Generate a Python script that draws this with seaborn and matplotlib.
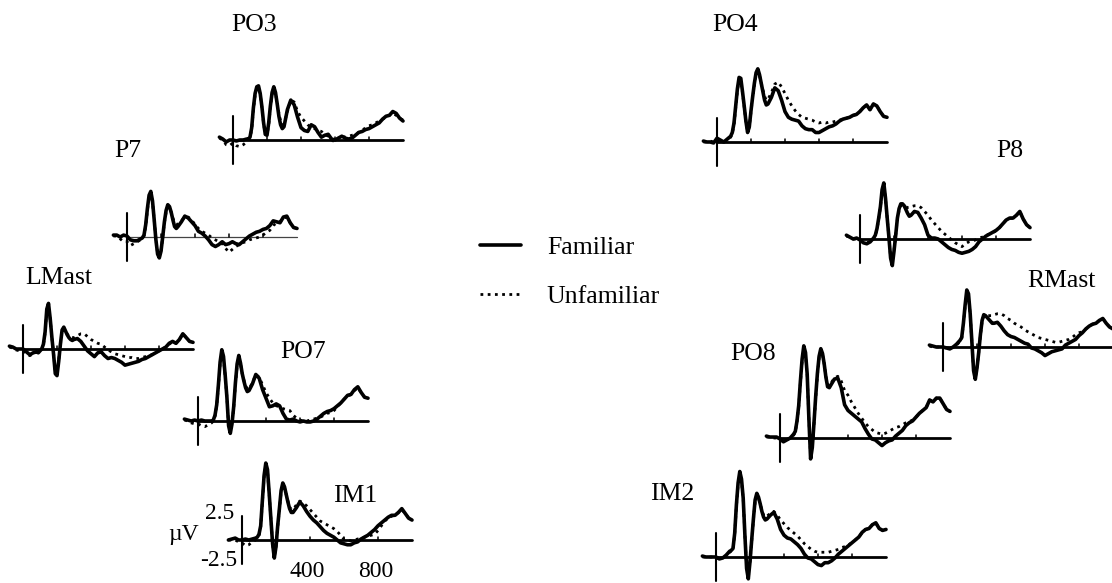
import numpy as np
import pandas as pd
import matplotlib
matplotlib.use("Agg")
import matplotlib.pyplot as plt
import seaborn as sns
from matplotlib.lines import Line2D

# ---------------- data (µV) ----------------
# sampling times (ms): 20 ms steps, 10 ms steps around the early peaks
times = ([-80, -60, -40, -20, 0, 20, 40, 60, 80]
         + list(range(90, 301, 10))
         + list(range(320, 1001, 20)))

po3_familiar = [0.3, 0.1, -0.2, 0.0, 0.0, -0.1, 0.0, 0.0, 0.1,
                0.1, 0.3, 1.3, 3.4, 4.9, 5.6, 5.7, 4.9, 3.5, 1.8, 0.6, 0.5,
                1.8, 3.6, 5.0, 5.6, 5.0, 3.8, 2.5, 1.6, 1.2, 1.4,
                3.2, 4.2, 3.7, 2.4, 1.3,
                1.0, 0.9, 1.6, 1.4, 0.8, 0.3, 0.5, 0.6, 0.1, 0.0,
                0.2, 0.4, 0.2, 0.1, 0.2, 0.5, 0.8, 0.9, 1.1, 1.2,
                1.4, 1.6, 1.8, 2.2, 2.5, 2.6, 3.0, 2.8, 2.3, 2.0]
po3_unfamiliar = [0.2, 0.0, -0.5, -0.6, -0.3, -0.6, -0.7, -0.5, -0.2,
                  0.0, 0.2, 1.1, 3.2, 4.7, 5.4, 5.5, 4.8, 3.4, 1.7, 0.6, 0.5,
                  1.6, 3.4, 4.8, 5.4, 4.9, 3.9, 2.8, 2.0, 1.6, 1.7,
                  3.0, 4.2, 4.0, 3.0, 2.4,
                  2.0, 1.6, 1.3, 1.2, 1.0, 0.9, 0.6, 0.4, 0.0, -0.2,
                  0.2, 0.4, 0.3, 0.4, 0.5, 0.6, 0.8, 1.0, 1.3, 1.5,
                  1.6, 1.8, 2.0, 2.2, 2.4, 2.6, 2.8, 2.6, 2.3, 2.1]

p7_familiar = [0.2, 0.2, 0.0, 0.2, 0.1, -0.3, -0.4, -0.4, -0.2,
               -0.1, 0.2, 1.3, 3.0, 4.4, 4.8, 3.8, 1.8, -0.3, -1.8, -2.2, -1.5,
               0.0, 1.6, 2.8, 3.4, 3.2, 2.6, 1.8, 1.1, 0.9, 1.1,
               1.6, 2.2, 2.0, 1.6, 1.2,
               0.6, 0.4, 0.1, -0.3, -0.8, -1.0, -0.8, -0.5, -0.8, -0.7,
               -0.5, -0.7, -0.8, -0.5, -0.2, 0.1, 0.3, 0.5, 0.6, 0.8,
               0.9, 1.2, 1.7, 1.6, 1.5, 2.1, 2.2, 1.5, 1.0, 0.9]
p7_unfamiliar = [0.1, 0.1, -0.2, -0.5, -0.5, -0.9, -0.7, -0.5, -0.3,
                 -0.1, 0.1, 1.1, 2.8, 4.2, 4.6, 3.7, 1.8, -0.2, -1.7, -2.1, -1.5,
                 0.0, 1.5, 2.6, 3.2, 3.1, 2.6, 2.0, 1.5, 1.3, 1.4,
                 1.7, 2.1, 2.1, 1.8, 1.3,
                 0.9, 0.6, 0.4, 0.2, -0.1, -0.3, -0.5, -0.7, -1.2, -1.6,
                 -1.3, -1.0, -0.8, -0.6, -0.5, -0.3, -0.2, -0.1, 0.0, 0.2,
                 0.5, 0.7, 1.2, 1.5, 1.6, 2.0, 2.1, 1.5, 1.0, 0.9]

lmast_familiar = [0.3, 0.2, 0.0, 0.0, 0.0, -0.3, -0.6, -0.4, -0.3,
                  -0.4, -0.2, 0.0, 0.5, 1.8, 4.2, 4.8, 3.2, 1.2, -0.6, -2.6, -2.8,
                  -1.3, 0.5, 2.0, 2.3, 1.9, 1.5, 1.2, 1.0, 0.9, 1.0,
                  1.1, 0.8, 0.3, -0.2, -0.5,
                  -0.8, -0.4, -0.3, -0.7, -1.0, -0.9, -1.0, -1.2, -1.4, -1.7,
                  -1.6, -1.5, -1.4, -1.3, -1.1, -1.0, -0.8, -0.6, -0.4, -0.2,
                  0.0, 0.2, 0.6, 0.8, 0.6, 1.0, 1.6, 1.2, 0.8, 0.7]
lmast_unfamiliar = [0.2, 0.1, -0.1, -0.2, -0.2, -0.5, -0.7, -0.5, -0.3,
                    -0.4, -0.2, 0.0, 0.4, 1.7, 4.0, 4.6, 3.1, 1.2, -0.5, -2.4, -2.6,
                    -1.2, 0.5, 1.8, 2.1, 1.9, 1.6, 1.3, 1.2, 1.2, 1.2,
                    1.4, 1.6, 1.6, 1.3, 1.0,
                    0.8, 0.6, 0.5, 0.2, -0.1, -0.3, -0.5, -0.6, -0.7, -0.8,
                    -0.9, -0.9, -1.0, -1.0, -0.9, -0.8, -0.7, -0.6, -0.4, -0.2,
                    0.0, 0.2, 0.5, 0.8, 0.6, 1.0, 1.6, 1.2, 0.8, 0.7]

po7_familiar = [0.2, 0.1, 0.0, 0.1, 0.0, 0.1, 0.0, 0.0, 0.0,
                0.1, 0.6, 1.7, 3.8, 6.2, 7.5, 6.8, 4.8, 2.5, -0.5, -1.3, -0.3,
                1.5, 4.0, 6.0, 6.9, 6.1, 5.0, 4.2, 3.5, 3.1, 3.2,
                3.9, 4.9, 4.5, 3.3, 2.4,
                1.5, 1.6, 1.8, 1.6, 0.8, 0.2, 0.1, 0.2, 0.0, -0.1,
                0.0, -0.1, -0.1, 0.0, 0.2, 0.5, 0.8, 1.0, 1.1, 1.3,
                1.6, 1.9, 2.3, 2.7, 2.8, 3.3, 3.6, 3.0, 2.5, 2.4]
po7_unfamiliar = [0.1, 0.0, -0.2, -0.3, -0.3, -0.5, -0.6, -0.4, -0.2,
                  0.0, 0.5, 1.6, 3.6, 6.0, 7.3, 6.6, 4.7, 2.5, -0.4, -1.2, -0.3,
                  1.4, 3.8, 5.8, 6.7, 6.0, 5.0, 4.3, 3.7, 3.4, 3.4,
                  4.0, 4.9, 4.6, 3.8, 3.0,
                  2.4, 1.9, 1.6, 1.5, 1.3, 1.2, 1.1, 0.6, 0.3, 0.1,
                  0.0, 0.0, 0.1, 0.2, 0.3, 0.4, 0.6, 0.8, 0.9, 1.1,
                  1.5, 1.9, 2.3, 2.6, 2.8, 3.2, 3.5, 3.0, 2.5, 2.4]

im1_familiar = [0.0, 0.1, 0.2, 0.0, 0.0, 0.1, 0.0, 0.1, 0.2,
                0.3, 0.6, 1.5, 4.2, 6.8, 8.1, 7.4, 4.9, 2.2, -0.4, -1.9, -0.7,
                1.5, 3.3, 5.2, 6.0, 5.6, 4.8, 4.0, 3.3, 2.9, 2.9,
                3.4, 4.0, 3.6, 3.0, 2.5,
                2.1, 1.8, 1.4, 1.0, 0.7, 0.5, 0.3, 0.0, -0.3, -0.4,
                -0.5, -0.5, -0.3, -0.2, 0.1, 0.3, 0.5, 0.8, 1.1, 1.5,
                1.8, 2.1, 2.4, 2.6, 2.6, 2.9, 3.3, 2.8, 2.3, 2.1]
im1_unfamiliar = [0.0, 0.0, 0.0, -0.2, -0.3, -0.6, -0.5, -0.2, 0.0,
                  0.2, 0.5, 1.4, 4.0, 6.6, 7.9, 7.2, 4.8, 2.2, -0.4, -1.8, -0.7,
                  1.4, 3.2, 5.0, 5.8, 5.5, 4.8, 4.1, 3.5, 3.2, 3.2,
                  3.7, 4.1, 3.9, 3.6, 3.2,
                  2.8, 2.4, 2.0, 1.8, 1.6, 1.4, 1.2, 0.9, 0.5, 0.1,
                  0.0, -0.1, 0.0, 0.1, 0.2, 0.3, 0.4, 0.5, 0.6, 1.0,
                  1.5, 2.0, 2.3, 2.5, 2.6, 2.9, 3.2, 2.8, 2.3, 2.1]

po4_familiar = [0.1, 0.0, 0.0, -0.1, 0.4, 0.2, 0.0, 0.3, 0.6,
                1.0, 2.0, 3.8, 5.6, 6.8, 6.7, 5.3, 3.8, 2.2, 1.0, 1.6, 3.3,
                4.8, 6.2, 7.3, 7.7, 7.1, 6.2, 5.3, 4.4, 3.9, 4.0,
                4.7, 5.7, 5.4, 4.4, 3.2,
                2.6, 2.4, 2.3, 2.2, 1.7, 1.4, 1.3, 1.3, 1.0, 1.0,
                1.2, 1.4, 1.6, 1.7, 1.9, 2.2, 2.4, 2.5, 2.6, 2.8,
                2.9, 3.2, 3.6, 3.9, 3.4, 4.0, 3.8, 3.2, 2.7, 2.6]
po4_unfamiliar = [0.0, 0.0, 0.1, 0.0, 0.2, 0.1, 0.0, 0.2, 0.5,
                  0.9, 1.8, 3.6, 5.4, 6.6, 6.5, 5.2, 3.7, 2.2, 1.1, 1.6, 3.2,
                  4.7, 6.0, 7.1, 7.5, 7.0, 6.2, 5.5, 4.8, 4.4, 4.5,
                  5.2, 6.1, 6.3, 5.8, 5.1,
                  4.4, 3.8, 3.3, 2.9, 2.6, 2.5, 2.4, 2.3, 2.1, 2.0,
                  2.1, 2.0, 2.1, 2.1, 2.2, 2.3, 2.4, 2.5, 2.6, 2.8,
                  2.9, 3.2, 3.6, 3.9, 3.4, 4.0, 3.8, 3.2, 2.7, 2.6]

p8_familiar = [0.4, 0.2, 0.0, 0.1, -0.1, -0.4, -0.5, -0.3, 0.1,
               0.4, 1.1, 2.2, 3.4, 5.2, 5.9, 4.3, 2.2, 0.2, -2.0, -2.8, -1.3,
               0.4, 2.2, 3.2, 3.7, 3.7, 3.5, 3.1, 2.7, 2.4, 2.5,
               2.9, 2.8, 2.2, 1.5, 0.4,
               0.1, 0.1, 0.0, -0.3, -0.6, -0.9, -1.1, -1.2, -1.4, -1.5,
               -1.4, -1.3, -1.1, -0.8, -0.3, 0.0, 0.3, 0.5, 0.7, 0.9,
               1.2, 1.6, 2.0, 2.2, 2.2, 2.5, 2.9, 2.1, 1.5, 1.2]
p8_unfamiliar = [0.3, 0.2, 0.0, 0.0, -0.1, -0.3, -0.4, -0.3, 0.0,
                 0.3, 1.0, 2.1, 3.3, 5.0, 5.7, 4.2, 2.2, 0.2, -1.9, -2.7, -1.2,
                 0.4, 2.1, 3.0, 3.5, 3.6, 3.5, 3.4, 3.3, 3.3, 3.4,
                 3.5, 3.5, 3.3, 2.9, 2.5,
                 2.0, 1.6, 1.2, 0.8, 0.5, 0.2, -0.1, -0.4, -0.6, -0.8,
                 -0.5, -0.3, -0.2, -0.1, 0.1, 0.2, 0.4, 0.5, 0.6, 0.9,
                 1.2, 1.6, 2.0, 2.2, 2.2, 2.5, 2.9, 2.1, 1.5, 1.2]

rmast_familiar = [0.2, 0.1, 0.0, 0.0, 0.0, -0.1, -0.2, 0.0, 0.3,
                  0.5, 0.7, 1.0, 2.5, 4.4, 6.0, 5.6, 3.5, 0.5, -2.5, -3.4, -2.2,
                  -0.6, 1.3, 2.8, 3.4, 3.3, 3.1, 2.9, 2.7, 2.5, 2.5,
                  2.6, 2.2, 1.7, 1.3, 1.1,
                  1.0, 0.8, 0.6, 0.4, 0.3, -0.1, -0.2, -0.4, -0.6, -0.9,
                  -0.7, -0.5, -0.4, -0.3, -0.2, 0.2, 0.4, 0.6, 0.8, 1.2,
                  1.5, 1.9, 2.2, 2.4, 2.5, 2.8, 3.0, 2.5, 2.1, 1.9]
rmast_unfamiliar = [0.1, 0.0, 0.0, 0.0, 0.0, -0.1, -0.1, 0.0, 0.2,
                    0.4, 0.6, 0.9, 2.4, 4.2, 5.8, 5.4, 3.4, 0.5, -2.4, -3.3, -2.1,
                    -0.6, 1.2, 2.7, 3.3, 3.3, 3.3, 3.3, 3.3, 3.3, 3.4,
                    3.5, 3.5, 3.3, 3.0, 2.8,
                    2.5, 2.3, 2.1, 1.8, 1.6, 1.4, 1.2, 1.0, 0.9, 0.8,
                    0.7, 0.6, 0.5, 0.5, 0.6, 0.7, 0.8, 1.0, 1.3, 1.5,
                    1.6, 1.9, 2.2, 2.4, 2.5, 2.8, 3.0, 2.5, 2.1, 1.9]

po8_familiar = [0.2, 0.1, 0.1, 0.1, -0.1, -0.4, -0.2, 0.0, 0.4,
                0.7, 1.8, 3.4, 6.0, 8.3, 9.7, 9.0, 6.7, 2.0, -2.2, -1.0, 1.6,
                4.4, 6.8, 8.6, 9.4, 8.9, 7.8, 6.4, 5.4, 5.3, 5.6,
                6.2, 6.3, 5.3, 3.5, 2.9,
                2.6, 2.3, 2.0, 1.7, 1.0, 0.4, -0.1, -0.2, -0.5, -0.8,
                -0.5, -0.3, -0.2, 0.2, 0.5, 0.8, 1.3, 1.6, 1.8, 2.2,
                2.6, 2.9, 3.2, 4.0, 3.8, 4.2, 4.2, 3.6, 3.0, 2.8]
po8_unfamiliar = [0.1, 0.1, 0.0, 0.0, -0.1, -0.3, -0.2, 0.0, 0.3,
                  0.6, 1.7, 3.3, 5.8, 8.1, 9.5, 8.8, 6.6, 2.0, -2.0, -0.9, 1.5,
                  4.2, 6.6, 8.4, 9.2, 8.8, 7.8, 6.5, 5.6, 5.5, 5.8,
                  6.3, 6.5, 6.0, 5.0, 4.5,
                  3.8, 3.2, 2.6, 2.1, 1.6, 1.2, 0.9, 0.6, 0.5, 0.4,
                  0.5, 0.7, 0.9, 1.1, 1.2, 1.4, 1.6, 1.7, 1.9, 2.2,
                  2.6, 2.9, 3.2, 4.0, 3.8, 4.2, 4.2, 3.6, 3.0, 2.8]

im2_familiar = [0.1, 0.0, 0.0, 0.0, 0.0, -0.2, -0.1, 0.2, 0.6,
                0.7, 0.9, 2.5, 5.5, 7.8, 9.0, 8.2, 6.2, 2.3, -1.2, -2.3, -0.5,
                1.8, 4.0, 6.0, 6.7, 6.3, 5.6, 4.8, 4.2, 3.9, 4.0,
                4.4, 4.7, 4.0, 2.9, 2.3,
                2.0, 1.9, 1.6, 1.3, 0.9, 0.3, -0.1, -0.2, -0.5, -0.8,
                -0.9, -0.6, -0.6, -0.4, -0.1, 0.3, 0.6, 0.9, 1.2, 1.5,
                1.8, 2.1, 2.6, 2.9, 3.0, 3.4, 3.6, 3.0, 2.8, 2.9]
im2_unfamiliar = [0.0, 0.0, 0.0, 0.0, -0.1, -0.2, -0.1, 0.1, 0.5,
                  0.6, 0.8, 2.4, 5.3, 7.6, 8.8, 8.0, 6.1, 2.3, -1.1, -2.2, -0.5,
                  1.7, 3.9, 5.8, 6.5, 6.2, 5.6, 4.9, 4.4, 4.2, 4.3,
                  4.6, 4.8, 4.4, 3.9, 3.5,
                  3.1, 2.8, 2.5, 2.2, 1.8, 1.4, 1.1, 0.8, 0.6, 0.5,
                  0.5, 0.5, 0.5, 0.6, 0.7, 0.8, 1.0, 1.1, 1.3, 1.5,
                  1.8, 2.1, 2.6, 2.9, 3.0, 3.4, 3.6, 3.0, 2.8, 2.9]

channels = ["PO3", "P7", "LMast", "PO7", "IM1", "PO4", "P8", "RMast", "PO8", "IM2"]
familiar = {"PO3": po3_familiar, "P7": p7_familiar, "LMast": lmast_familiar,
            "PO7": po7_familiar, "IM1": im1_familiar, "PO4": po4_familiar,
            "P8": p8_familiar, "RMast": rmast_familiar, "PO8": po8_familiar,
            "IM2": im2_familiar}
unfamiliar = {"PO3": po3_unfamiliar, "P7": p7_unfamiliar, "LMast": lmast_unfamiliar,
              "PO7": po7_unfamiliar, "IM1": im1_unfamiliar, "PO4": po4_unfamiliar,
              "P8": p8_unfamiliar, "RMast": rmast_unfamiliar, "PO8": po8_unfamiliar,
              "IM2": im2_unfamiliar}
condition_labels = ["Familiar", "Unfamiliar"]
scale_ticks_ms = [400, 800]
scale_uv = [2.5, -2.5]

for ch in channels:
    assert len(familiar[ch]) == len(times), (ch, len(familiar[ch]))
    assert len(unfamiliar[ch]) == len(times), (ch, len(unfamiliar[ch]))

# ---------------- layout (pixels) ----------------
W, H = 1112, 583
PX_MS = 0.17     # pixels per ms
PX_UV = 9.5      # pixels per µV
XMIN, XMAX = -100, 1010
YMIN, YMAX = -4.5, 10.5

# origin (t=0, 0 µV) and label anchor (centre x, baseline y)
origins = {"PO3": (233, 140), "P7": (127, 237), "LMast": (23, 349),
           "PO7": (198, 421), "IM1": (242, 540), "PO4": (717, 142),
           "P8": (860, 239), "RMast": (943, 347), "PO8": (780, 438),
           "IM2": (716, 557)}
label_pos = {"PO3": (254, 31), "P7": (128, 157), "LMast": (59, 284),
             "PO7": (303, 358), "IM1": (355, 502), "PO4": (735, 31),
             "P8": (1010, 157), "RMast": (1061, 287), "PO8": (753, 360),
             "IM2": (672, 500)}

sns.set_style("white")
plt.rcParams["font.family"] = ["Liberation Serif", "DejaVu Serif"]
plt.rcParams["text.color"] = "black"

FS = 18.5
DOT = (0, (1, 1.6))

fig = plt.figure(figsize=(W / 100, H / 100), dpi=100)
fig.patch.set_facecolor("white")

for ch in channels:
    x0, y0 = origins[ch]
    left = x0 + XMIN * PX_MS
    width = (XMAX - XMIN) * PX_MS
    top = y0 - YMAX * PX_UV
    height = (YMAX - YMIN) * PX_UV
    ax = fig.add_axes([left / W, 1 - (top + height) / H, width / W, height / H])
    ax.set_xlim(XMIN, XMAX)
    ax.set_ylim(YMIN, YMAX)
    ax.axis("off")
    ax.patch.set_visible(False)

    # baseline, time ticks, amplitude bar
    if ch == "P7":
        ax.plot([0, 1000], [0, 0], color="#444444", lw=0.9, clip_on=False)
    else:
        ax.plot([0, 1000], [0, 0], color="black", lw=2.0, clip_on=False)
    for t in (200, 400, 600, 800):
        ax.plot([t, t], [0, 0.35], color="black", lw=1.1, clip_on=False)
    ax.plot([0, 0], [-2.5, 2.5], color="black", lw=1.5, clip_on=False)

    df = pd.DataFrame({"time": times, "Familiar": familiar[ch],
                       "Unfamiliar": unfamiliar[ch]})
    sns.lineplot(data=df, x="time", y="Unfamiliar", ax=ax, color="black",
                 linewidth=2.0, linestyle=DOT, estimator=None, clip_on=False)
    sns.lineplot(data=df, x="time", y="Familiar", ax=ax, color="black",
                 linewidth=2.6, estimator=None, clip_on=False)

    lx, ly = label_pos[ch]
    fig.text(lx / W, 1 - ly / H, ch, ha="center", va="baseline", fontsize=FS)

    if ch == "IM1":
        ax.text(-45, 2.2, f"{scale_uv[0]}", ha="right", va="baseline", fontsize=17)
        ax.text(-345, 0.0, "µV", ha="center", va="baseline", fontsize=17)
        ax.text(-30, -2.7, f"{scale_uv[1]}", ha="right", va="baseline", fontsize=17)
        for t in scale_ticks_ms:
            ax.text(t - 15, -3.9, str(t), ha="center", va="baseline", fontsize=17)

handles = [Line2D([], [], color="black", lw=2.6),
           Line2D([], [], color="black", lw=2.0, linestyle=DOT)]
fig.legend(handles=handles, labels=condition_labels, loc="center left",
           bbox_to_anchor=(480 / W, 1 - 272 / H), frameon=False, fontsize=FS,
           handlelength=1.6, handletextpad=1.0, labelspacing=1.05,
           borderaxespad=0, borderpad=0)

fig.savefig("out.png", dpi=100, facecolor="white")
